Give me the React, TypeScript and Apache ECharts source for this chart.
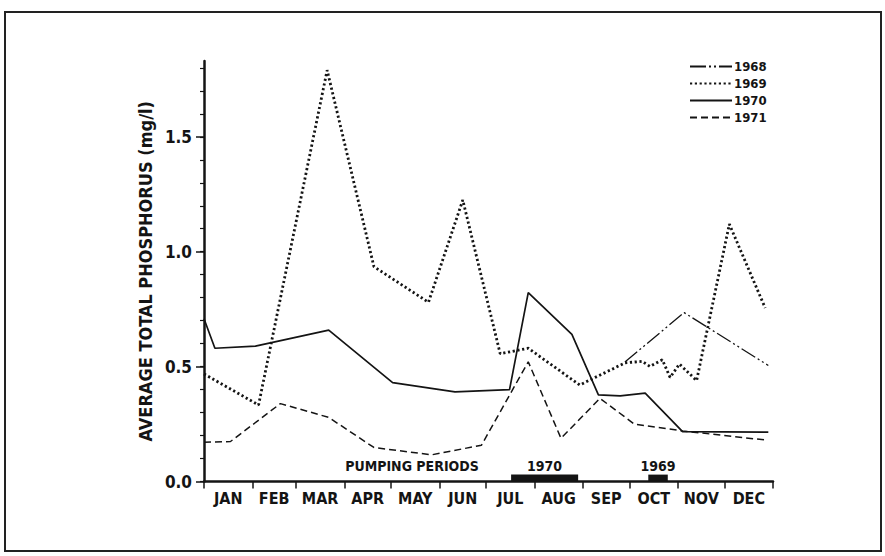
import React, { useEffect, useRef } from "react";
import * as echarts from "echarts";

const FONT = "'DejaVu Sans Condensed', 'Liberation Sans Narrow', 'DejaVu Sans', sans-serif";
const INK = "#141414";

// Months (x axis in day-of-year)
const monthNames = ["JAN", "FEB", "MAR", "APR", "MAY", "JUN", "JUL", "AUG", "SEP", "OCT", "NOV", "DEC"];
const monthDays = [31, 28, 31, 30, 31, 30, 31, 31, 30, 31, 30, 31];

// Y axis ticks
const yMinorTicks = [0, 0.1, 0.2, 0.3, 0.4, 0.5, 0.6, 0.7, 0.8, 0.9, 1.0, 1.1, 1.2, 1.3, 1.4, 1.5, 1.6, 1.7, 1.8];
const yLabelTicks = [0, 0.5, 1.0, 1.5];

// Series (day of year, average total phosphorus mg/l)
const days1968 = [270, 308, 362];
const vals1968 = [0.52, 0.735, 0.505];

const days1969 = [0, 35, 79, 109, 144, 166, 190, 208, 241, 270, 281, 286, 294, 299, 305, 316, 337, 360];
const vals1969 = [0.468, 0.333, 1.79, 0.935, 0.78, 1.225, 0.556, 0.58, 0.42, 0.516, 0.523, 0.501, 0.53, 0.453, 0.511, 0.439, 1.12, 0.755];

const days1970 = [0, 7, 33, 80, 121, 161, 196, 208, 236, 253, 267, 283, 307, 362];
const vals1970 = [0.708, 0.58, 0.589, 0.659, 0.43, 0.39, 0.4, 0.822, 0.64, 0.377, 0.373, 0.385, 0.217, 0.215];

const days1971 = [0, 17, 49, 80, 109, 146, 178, 208, 229, 254, 276, 307, 361];
const vals1971 = [0.171, 0.174, 0.339, 0.279, 0.148, 0.116, 0.158, 0.521, 0.188, 0.362, 0.25, 0.22, 0.18];

// Pumping periods
const pumpYears = ["1970", "1969"];
const pumpStart = [197, 285];
const pumpEnd = [240, 297.5];
const pumpBarHeight = 0.03;

function pairs(d: number[], v: number[]) {
  return d.map((x, i) => [x, v[i]]);
}

export default function App() {
  const ref = useRef<HTMLDivElement>(null);

  useEffect(() => {
    if (!ref.current) return;
    const chart = echarts.init(ref.current, undefined, { renderer: "svg" });

    const monthBounds: number[] = [0];
    monthDays.forEach((d) => monthBounds.push(monthBounds[monthBounds.length - 1] + d));
    const monthMids = monthDays.map((d, i) => monthBounds[i] + d / 2);

    const lineBase = { type: "line", symbol: "none", showSymbol: false, silent: true, z: 3 } as any;

    chart.setOption({
      animation: false,
      backgroundColor: "#ffffff",
      textStyle: { fontFamily: FONT, color: INK },
      grid: { left: 204, right: 112, top: 61, bottom: 74.5 },
      legend: {
        data: ["1968", "1969", "1970", "1971"],
        orient: "vertical",
        left: 684,
        top: 55,
        itemWidth: 42,
        itemHeight: 10,
        itemGap: 4,
        itemStyle: { color: "rgba(0,0,0,0)", borderColor: "rgba(0,0,0,0)", borderWidth: 0 },
        textStyle: { fontFamily: FONT, fontSize: 13, fontWeight: "bold", color: INK, padding: [0, 0, 0, -3] },
        selectedMode: false,
      },
      xAxis: {
        type: "value",
        min: 0,
        max: 365,
        splitLine: { show: false },
        axisLine: { show: true, onZero: false, lineStyle: { color: INK, width: 2.5 } },
        axisTick: { show: true, customValues: monthBounds, length: 7, lineStyle: { color: INK, width: 1.5 } },
        axisLabel: {
          customValues: monthMids,
          margin: 9,
          fontFamily: FONT,
          fontSize: 16,
          fontWeight: "bold",
          color: INK,
          formatter: (v: number) => {
            const i = monthMids.findIndex((m) => Math.abs(m - v) < 0.01);
            return i >= 0 ? monthNames[i] : "";
          },
        },
      },
      yAxis: [
        {
          type: "value",
          min: 0,
          max: 1.83,
          name: "AVERAGE TOTAL PHOSPHORUS (mg/l)",
          nameLocation: "middle",
          nameGap: 44,
          nameTextStyle: { fontFamily: FONT, fontSize: 18, fontWeight: "bold", color: INK },
          splitLine: { show: false },
          axisLine: { show: true, lineStyle: { color: INK, width: 2.5 } },
          axisTick: { show: true, customValues: yMinorTicks, length: 4, lineStyle: { color: INK, width: 1.2 } },
          axisLabel: {
            customValues: yLabelTicks,
            margin: 12,
            fontFamily: FONT,
            fontSize: 17,
            fontWeight: "bold",
            color: INK,
            formatter: (v: number) => v.toFixed(1),
          },
        },
        {
          type: "value",
          min: 0,
          max: 1.83,
          position: "left",
          splitLine: { show: false },
          axisLine: { show: false },
          axisLabel: { show: false },
          axisTick: { show: true, customValues: yLabelTicks, length: 8, lineStyle: { color: INK, width: 1.5 } },
        },
      ],
      series: [
        {
          ...lineBase,
          name: "1968",
          data: pairs(days1968, vals1968),
          lineStyle: { color: INK, width: 1.3, type: [16, 3, 2, 3, 2, 3] },
          itemStyle: { color: INK },
        },
        {
          ...lineBase,
          name: "1969",
          data: pairs(days1969, vals1969),
          lineStyle: { color: INK, width: 2.8, type: [2.2, 2.6] },
          itemStyle: { color: INK },
        },
        {
          ...lineBase,
          name: "1970",
          data: pairs(days1970, vals1970),
          lineStyle: { color: INK, width: 1.7, type: "solid" },
          itemStyle: { color: INK },
        },
        {
          ...lineBase,
          name: "1971",
          data: pairs(days1971, vals1971),
          lineStyle: { color: INK, width: 1.5, type: [7, 4] },
          itemStyle: { color: INK },
        },
        {
          type: "custom",
          name: "pumping",
          silent: true,
          clip: false,
          z: 4,
          data: pumpYears.map((_, i) => [pumpStart[i], pumpEnd[i]]),
          encode: { x: [0, 1] },
          renderItem: (params: any, api: any) => {
            const i = params.dataIndex;
            const s = api.coord([api.value(0), 0]);
            const e = api.coord([api.value(1), pumpBarHeight]);
            return {
              type: "group",
              children: [
                {
                  type: "rect",
                  shape: { x: s[0], y: e[1], width: e[0] - s[0], height: s[1] - e[1] },
                  style: { fill: INK },
                },
                {
                  type: "text",
                  style: {
                    text: pumpYears[i],
                    x: (s[0] + e[0]) / 2,
                    y: e[1] - 2,
                    align: "center",
                    verticalAlign: "bottom",
                    font: `bold 14px ${FONT}`,
                    fill: INK,
                  },
                },
              ],
            };
          },
        },
      ],
      graphic: [
        {
          type: "rect",
          shape: { x: 5, y: 12, width: 876, height: 539 },
          style: { fill: "none", stroke: "#222", lineWidth: 2 },
          silent: true,
        },
        {
          type: "text",
          x: 412,
          y: 466,
          style: {
            text: "PUMPING PERIODS",
            align: "center",
            verticalAlign: "middle",
            font: `bold 14px ${FONT}`,
            fill: INK,
          },
          silent: true,
        },
      ],
    });

    return () => chart.dispose();
  }, []);

  return (
    <div
      ref={ref}
      style={{ position: "fixed", left: 0, top: 0, width: 885, height: 556, background: "#fff" }}
    />
  );
}
